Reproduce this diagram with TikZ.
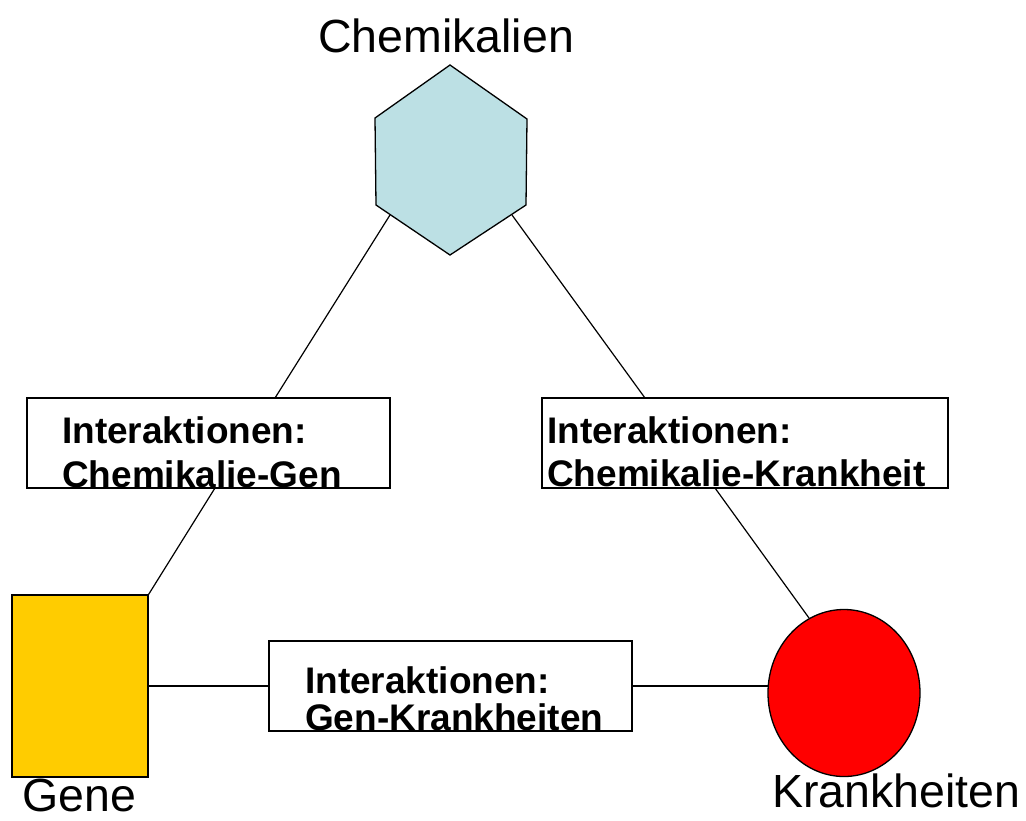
\documentclass[tikz,border=0pt]{standalone}
\usepackage{fontspec}
\setmainfont{Liberation Sans}
\usetikzlibrary{shapes.geometric}
\definecolor{hexblue}{RGB}{188,224,228}
\definecolor{geneyellow}{RGB}{255,204,0}
\definecolor{krred}{RGB}{255,0,0}
\begin{document}
\begin{tikzpicture}[x=1pt,y=-1pt,
  edge/.style={draw=black,line width=1.2pt},
  ibox/.style={draw=black,line width=1.3pt,fill=white,rectangle,inner sep=0pt},
  itext/.style={anchor=base west,inner sep=0pt,font=\fontsize{37}{44}\selectfont\bfseries},
  label/.style={inner sep=0pt,text depth=0pt,font=\fontsize{46.5}{52}\selectfont}]
\useasboundingbox[fill=white] (0,0) rectangle (1026,820);

\coordinate (hexL) at (390,215);
\coordinate (hexR) at (512,215);

% hexagon
\draw[line width=1.3pt,fill=hexblue,line join=miter]
  (450,65) -- (527,119) -- (526,205) -- (450,255) -- (376,205) -- (375,118) -- cycle;

% nodes
\node[ibox,minimum width=363pt,minimum height=90pt] (lbox) at (208.5,443) {};
\node[ibox,minimum width=406pt,minimum height=90pt] (rbox) at (745,443) {};
\node[ibox,minimum width=363pt,minimum height=90pt] (bbox) at (450.5,686) {};
\node[draw=black,line width=1.3pt,fill=geneyellow,rectangle,inner sep=0pt,
      minimum width=136pt,minimum height=182pt] (gene) at (80,686) {};
\node[draw=black,line width=1.3pt,fill=krred,ellipse,inner sep=0pt,
      minimum width=152pt,minimum height=167pt] (kr) at (844,693) {};

\coordinate (lboxT) at (275,398);
\coordinate (lboxB) at (215,488);
\coordinate (rboxT) at (645,398);
\coordinate (rboxB) at (715,488);
\coordinate (krW) at (768.5,686);

\draw[edge] (hexL) -- (lboxT);
\draw[edge] (hexR) -- (rboxT);
\draw[edge] (lboxB) -- (gene.north east);
\draw[edge] (rboxB) -- (kr.115);
\draw[edge] (gene.east) -- (bbox.west);
\draw[edge] (bbox.east) -- (krW);

% box texts
\node[itext] (lt1) at (62,443) {Interaktionen:};
\node[itext] (lt2) at (62,487) {Chemikalie-Gen};
\node[itext] (rt1) at (547,443) {Interaktionen:};
\node[itext] (rt2) at (547,486) {Chemikalie-Krankheit};
\node[itext] (bt1) at (305,693) {Interaktionen:};
\node[itext] (bt2) at (305,730) {Gen-Krankheiten};

% box bottoms drawn over the text
\draw[line width=1.3pt] (lbox.south west) -- (lbox.south east);
\draw[line width=1.3pt] (rbox.south west) -- (rbox.south east);
\draw[line width=1.3pt] (bbox.south west) -- (bbox.south east);

% labels
\node[label,anchor=base] (chem) at (446,52) {Chemikalien};
\node[label,anchor=base west] (genel) at (22,811) {Gene};
\node[label,anchor=base west] (krl) at (772,807) {Krankheiten};
\end{tikzpicture}
\end{document}
